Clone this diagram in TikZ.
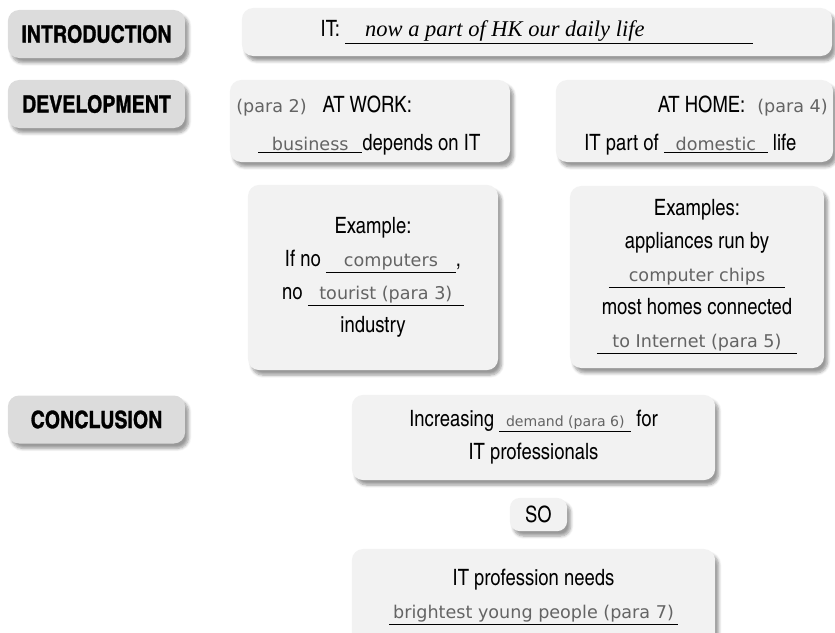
\documentclass[tikz,border=0pt]{standalone}
\usepackage{fontspec}
\setmainfont{texgyreheroscn-regular.otf}[BoldFont=texgyreheroscn-bold.otf,BoldFeatures={FakeBold=1.2}]
\newfontfamily\ansfont{DejaVu Sans}
\newfontfamily\introfont{Liberation Serif}
\usetikzlibrary{shadows,shadows.blur}
\definecolor{headgray}{RGB}{220,220,220}
\definecolor{boxgray}{RGB}{242,242,242}
\definecolor{answergray}{RGB}{100,100,100}
\newcommand{\ans}[1]{{\ansfont\fontsize{12.5}{14}\selectfont\color{answergray}#1}}
\newcommand{\blank}[2]{\underline{\makebox[#1]{#2}}}

\begin{document}
\begin{tikzpicture}[x=0.025cm, y=-0.025cm,
    hdr/.style={fill=headgray, rounded corners=8pt, minimum width=4.43cm, minimum height=1.2cm,
                font=\fontsize{17}{20}\selectfont\bfseries,
                blur shadow={shadow xshift=2.5pt, shadow yshift=-3.5pt, shadow blur steps=6}},
    card/.style={fill=boxgray, rounded corners=8pt, align=center,
                 font=\fontsize{16}{23.5}\selectfont,
                 blur shadow={shadow xshift=2.5pt, shadow yshift=-3.5pt, shadow blur steps=6}},
    txt/.style={inner sep=0pt, font=\fontsize{16}{18}\selectfont}]
  \useasboundingbox (0,0) rectangle (835,632);

  % section headers
  \node[hdr] (intro) at (96.5,34) {INTRODUCTION};
  \node[hdr] (devel) at (96.5,104) {DEVELOPMENT};
  \node[hdr] (concl) at (96.5,419.5) {CONCLUSION};

  % introduction
  \node[card, minimum width=14.75cm, minimum height=1.2cm] (itbox) at (537,32)
    {IT:\ \underline{\makebox[10.2cm][l]{\hspace{0.5cm}\introfont\itshape\fontsize{16}{18}\selectfont now a part of HK our daily life}}};

  % development
  \node[card, minimum width=7cm, minimum height=2.05cm] (work) at (370,121) {};
  \node[txt, anchor=base west] (worktop) at (236,112) {\ans{(para 2)}\hspace{0.4cm}AT WORK:};
  \node[txt, anchor=base west] (workbot) at (258,150) {\blank{2.6cm}{\ans{business}}depends on IT};

  \node[card, minimum width=6.93cm, minimum height=2.05cm] (home) at (694.5,121) {};
  \node[txt, anchor=base east] (hometop) at (828,112) {AT HOME:\hspace{0.3cm}\ans{(para 4)}};
  \node[txt, anchor=base west] (homebot) at (584,150) {IT part of \blank{2.6cm}{\ans{domestic}} life};

  \node[card, minimum width=6.25cm, minimum height=4.63cm] (workex) at (373,277.5)
    {Example:\\ If no \blank{3.25cm}{\ans{computers}},\\ no \blank{3.9cm}{\ans{tourist (para 3)}}\\ industry};
  \node[card, minimum width=6.35cm, minimum height=4.55cm] (homeex) at (697,277)
    {Examples:\\ appliances run by\\ \blank{4.4cm}{\ans{computer chips}}\\ most homes connected\\ \blank{5cm}{\ans{to Internet (para 5)}}};

  % conclusion
  \node[card, minimum width=9.08cm, minimum height=2.13cm] (demand) at (533.5,437.5)
    {Increasing \blank{3.3cm}{\ans{\fontsize{10}{11}\selectfont demand (para 6)}} for\\ IT professionals};
  \node[card, minimum width=1.43cm, minimum height=0.83cm, rounded corners=7pt] (so) at (538.5,514.5) {SO};
  \node[card, minimum width=9.08cm, minimum height=2.4cm] (needs) at (533.5,597)
    {IT profession needs\\ \blank{7.2cm}{\ans{brightest young people (para 7)}}};
\end{tikzpicture}
\end{document}
